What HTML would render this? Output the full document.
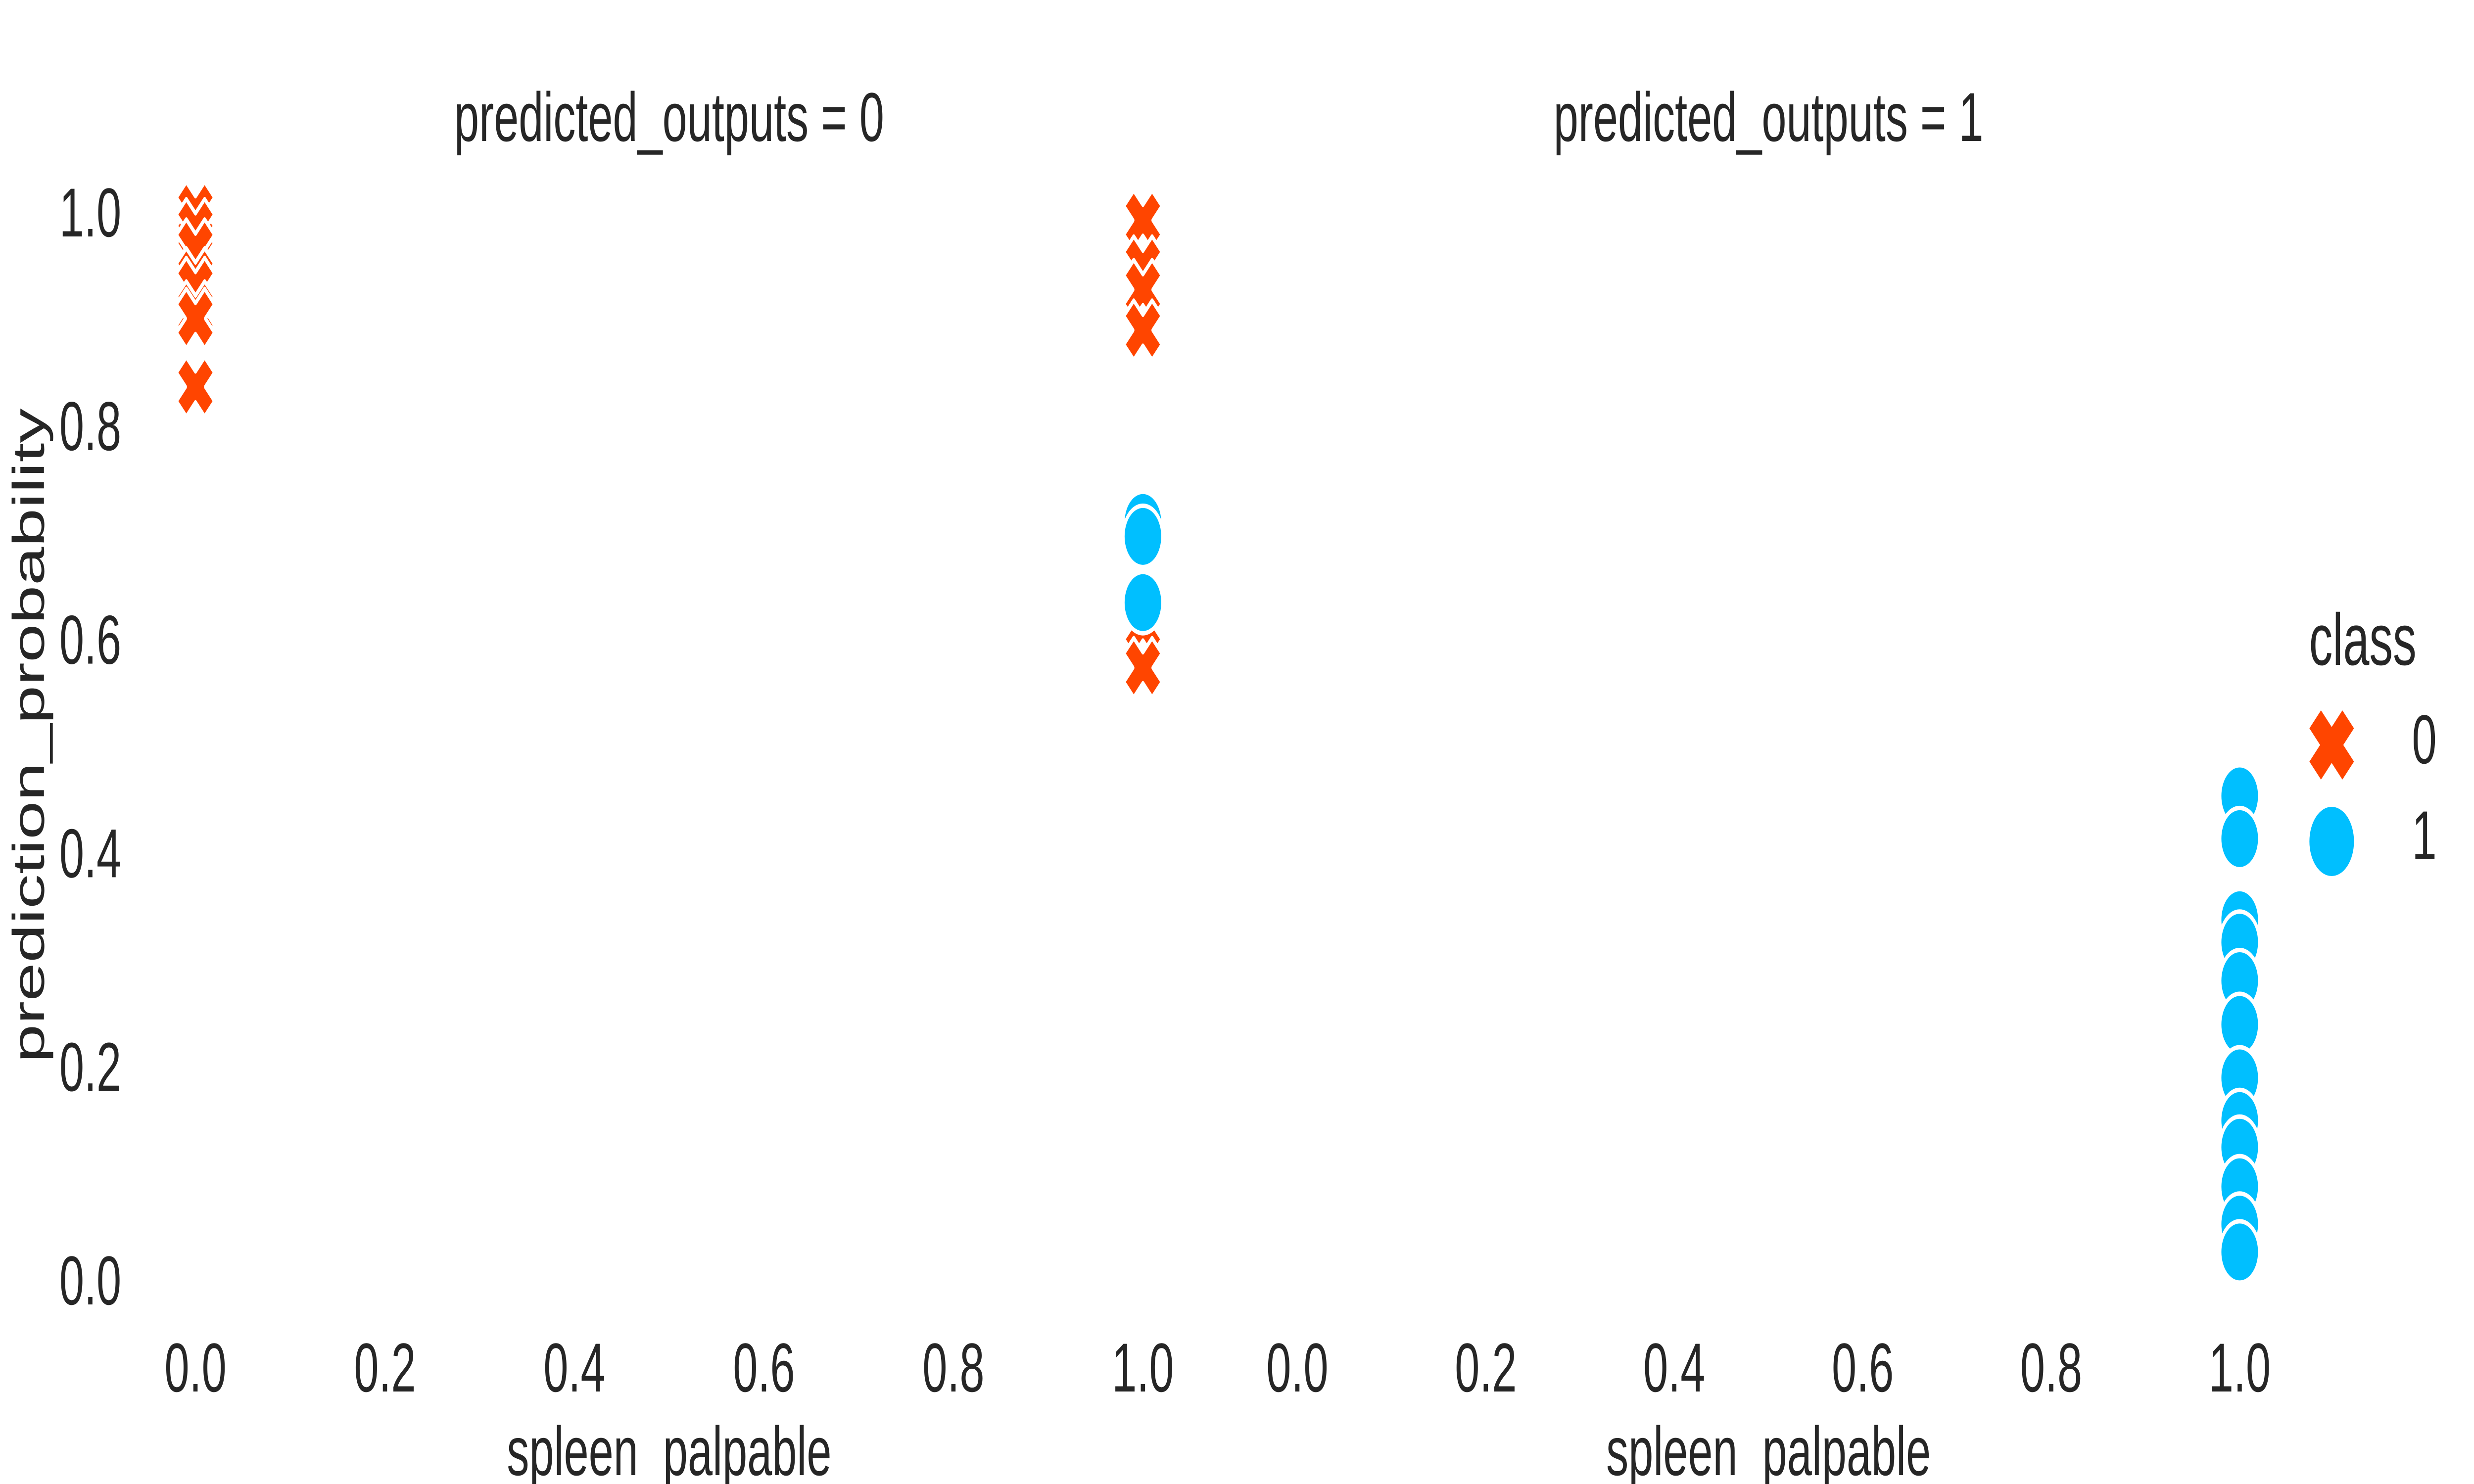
<!DOCTYPE html>
<html><head><meta charset="utf-8"><style>
html,body{margin:0;padding:0;background:#fff;overflow:hidden;width:100%;height:100%;}
svg{display:block;position:fixed;left:0;top:0;width:100vw;height:100vh;}
text{font-family:"Liberation Sans",Arial,sans-serif;fill:#262626;white-space:pre;}
</style></head>
<body>
<svg id="chart" viewBox="0 0 7771 3000" preserveAspectRatio="none" xmlns="http://www.w3.org/2000/svg">
<g id="axes"></g>
<g id="marks"></g>
<g id="legend">
  <text x="7253" y="1344" font-size="148">class</text>
  <path d="" id="legX" fill="#FF4500"/>
  <text x="7576" y="1543" font-size="140">0</text>
  <circle cx="7324" cy="1701" r="70" fill="#00BFFF"/>
  <text x="7576" y="1737" font-size="140">1</text>
</g>
</svg>
<script>
// ---- data ----
const panelTitles = ["predicted_outputs = 0", "predicted_outputs = 1"];
const xTicks = [0.0, 0.2, 0.4, 0.6, 0.8, 1.0];
const xTickLabels = ["0.0", "0.2", "0.4", "0.6", "0.8", "1.0"];
const yTicks = [0.0, 0.2, 0.4, 0.6, 0.8, 1.0];
const yTickLabels = ["0.0", "0.2", "0.4", "0.6", "0.8", "1.0"];
// panel 0 (predicted 0)
const p0_class0_x = [0, 0, 0, 0, 0, 0, 0, 0, 1, 1, 1, 1, 1, 1];
const p0_class0_y = [1.0, 0.984, 0.965, 0.938, 0.929, 0.907, 0.9, 0.836, 0.992, 0.949, 0.927, 0.889, 0.613, 0.573];
const p0_class1_x = [1, 1, 1];
const p0_class1_y = [0.709, 0.696, 0.634];
// panel 1 (predicted 1)
const p1_class0_x = [1];
const p1_class0_y = [0.30];
const p1_class1_x = [1, 1, 1, 1, 1, 1, 1, 1, 1, 1, 1, 1];
const p1_class1_y = [0.453, 0.413, 0.337, 0.316, 0.280, 0.239, 0.189, 0.149, 0.124, 0.087, 0.052, 0.026];

// ---- layout ----
const NS = "http://www.w3.org/2000/svg";
const panelX0 = [614, 4075], panelX1 = [3590, 7035];
const Y0 = 2587, Y1 = 428;
function xScale(p, v){ return panelX0[p] + (panelX1[p]-panelX0[p])*v; }
function yScale(v){ return Y0 + (Y1-Y0)*v; }
function mk(tag, attrs, parent){ const e=document.createElementNS(NS,tag); for(const k in attrs) e.setAttribute(k,attrs[k]); parent.appendChild(e); return e; }
function xPath(cx, cy, s){
  const h=s/2, w=s*0.26;
  const pts=[[-h,-h+w],[-h+w,-h],[0,-w],[h-w,-h],[h,-h+w],[w,0],[h,h-w],[h-w,h],[0,w],[-h+w,h],[-h,h-w],[-w,0]];
  return "M"+pts.map(p=>(cx+p[0]).toFixed(1)+","+(cy+p[1]).toFixed(1)).join("L")+"Z";
}
const axes = document.getElementById("axes");
const marks = document.getElementById("marks");

for (let p=0; p<2; p++){
  const cx = (panelX0[p]+panelX1[p])/2;
  const t = mk("text",{x:cx,y:285,"font-size":140,"text-anchor":"middle"},axes);
  
  
  t.textContent = panelTitles[p];
  for (let i=0;i<xTicks.length;i++){
    const tl = mk("text",{x:xScale(p,xTicks[i]),y:2813,"font-size":140,"text-anchor":"middle"},axes);
    
    
    tl.textContent = xTickLabels[i];
  }
  const xl = mk("text",{x:cx,y:2982,"font-size":140,"text-anchor":"middle"},axes);
  
  
  xl.textContent = "spleen  palpable";
}
for (let i=0;i<yTicks.length;i++){
  const tl = mk("text",{x:381,y:yScale(yTicks[i])+50,"font-size":140,"text-anchor":"end"},axes);
  
  
  tl.textContent = yTickLabels[i];
}
const yl = mk("text",{x:0,y:0,"font-size":140,"text-anchor":"middle",transform:"translate(138,1487) rotate(-90)"},axes);


yl.textContent = "prediction_probability";

function drawX(p, xs, ys){
  for (let i=0;i<xs.length;i++){
    const e = mk("path",{d:xPath(xScale(p,xs[i]),yScale(ys[i]),120),fill:"#FF4500",stroke:"#fff","stroke-width":9,"stroke-linejoin":"round"},marks);
    
    
  }
}
function drawO(p, xs, ys){
  for (let i=0;i<xs.length;i++){
    const e = mk("circle",{cx:xScale(p,xs[i]),cy:yScale(ys[i]),r:62,fill:"#00BFFF",stroke:"#fff","stroke-width":9},marks);
    
    
  }
}
drawX(0, p0_class0_x, p0_class0_y);
drawO(0, p0_class1_x, p0_class1_y);
drawX(1, p1_class0_x, p1_class0_y);
drawO(1, p1_class1_x, p1_class1_y);

document.getElementById("legX").setAttribute("d", xPath(7324,1506,140));
</script>
</body></html>
